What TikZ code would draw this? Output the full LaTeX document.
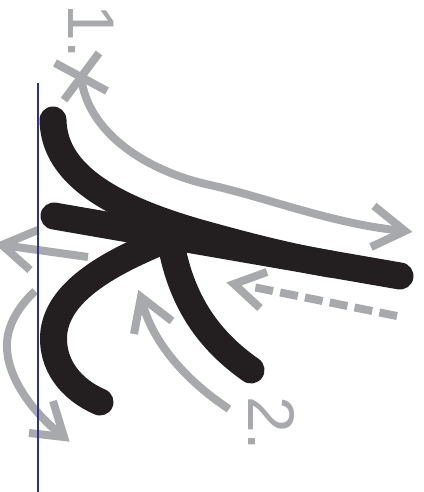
\documentclass[tikz,border=0pt]{standalone}
\usepackage{fontspec}
\setmainfont{Liberation Sans}
\definecolor{inkblack}{RGB}{35,31,32}
\definecolor{guidegrey}{RGB}{167,169,172}
\definecolor{edgeblue}{RGB}{46,49,146}
\tikzset{
	limb/.style={draw=inkblack, line width=27pt, line cap=round},
	greyline/.style={draw=guidegrey, line width=8pt},
	chevron/.style={greyline, line join=miter, miter limit=10},
	steplabel/.style={text=guidegrey, inner sep=0pt, rotate=-90, anchor=base west, font=\fontsize{66}{66}\selectfont}
}
\begin{document}
\begin{tikzpicture}[x=1pt,y=-1pt]
	\useasboundingbox (0,0) rectangle (423,492);

	\coordinate (topend) at (53,120);
	\coordinate (leftend) at (54,216);
	\coordinate (rightend) at (400,276);
	\coordinate (bend) at (200,233);
	\coordinate (merge) at (330,264);
	\coordinate (hub) at (170,238);
	\coordinate (lowend) at (251,370);
	\coordinate (hookmid) at (54,331);
	\coordinate (hookend) at (100,402);

	\draw [limb] (leftend) -- (rightend);
	\draw [limb] (topend) .. controls (54,178) and (120,210) .. (bend)
		.. controls (240,244) and (280,255) .. (merge);
	\draw [limb] (hub) .. controls (180,300) and (208,340) .. (lowend);
	\draw [limb] (hub) .. controls (110,262) and (60,290) .. (hookmid)
		.. controls (50,365) and (72,390) .. (hookend);


	\coordinate (cross) at (81,77);
	\coordinate (tip1) at (405,231);
	\coordinate (tip2) at (141,297);
	\coordinate (tip3) at (234,284);
	\coordinate (tip4) at (2,245);
	\coordinate (tip5) at (64,437);

	\draw [greyline] (cross) ++(-26,-14) -- ++(52,28);
	\draw [greyline] (cross) ++(-17,23) -- ++(35,-47);
	\draw [greyline] (cross) .. controls (88,135) and (150,172) .. (210,185)
		.. controls (265,197) and (335,225) .. (tip1);
	\draw [chevron] (374,206) -- (tip1) -- (371,247);

	\draw [greyline] (229,409) .. controls (185,380) and (150,340) .. (tip2);
	\draw [chevron] (134,334) -- (tip2) -- (172,321);

	\draw [greyline, dash pattern=on 18pt off 7.3pt] (397,316) -- (253,287);
	\draw [chevron] (267,272) -- (tip3) -- (260,308);

	\draw [greyline] (88,257) -- (tip4);
	\draw [chevron] (38,230) -- (tip4) -- (30,270);

	\draw [greyline] (35,291) .. controls (15,310) and (6,330) .. (7,348)
		.. controls (8,380) and (35,415) .. (tip5);
	\draw [chevron] (53,401) -- (tip5) -- (29,433);

	\node [name=one, steplabel] at (68,4) {1.};
	\node [name=two, steplabel] at (248,396) {2.};


	\coordinate (railtop) at (38,83);
	\coordinate (railbot) at (38,495);
	\draw [edgeblue, line width=2.3pt] (railtop) -- (railbot);

\end{tikzpicture}
\end{document}
